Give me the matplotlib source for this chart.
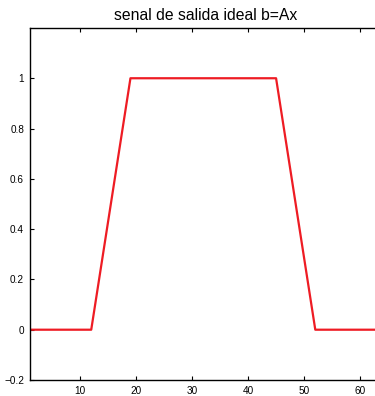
import matplotlib
matplotlib.use("Agg")
import matplotlib.pyplot as plt

# breakpoints of the ideal output signal
x_pts = [1, 12, 19, 45, 52, 64]
y_pts = [0, 0, 1, 1, 0, 0]

x_ticks = [10, 20, 30, 40, 50, 60]
y_ticks = [-0.2, 0, 0.2, 0.4, 0.6, 0.8, 1]
y_labels = ["\u22120.2", "0", "0.2", "0.4", "0.6", "0.8", "1"]


def main():
    plt.rcParams["font.family"] = ["Liberation Sans", "DejaVu Sans"]
    fig = plt.figure(figsize=(3.75, 3.96), dpi=100)
    ax = fig.add_axes([0.079, 0.0404, 0.941, 0.889])

    ax.plot(x_pts, y_pts, color="#ee1c24", lw=1.6)

    ax.set_xlim(1, 64)
    ax.set_ylim(-0.2, 1.2)
    ax.set_xticks(x_ticks)
    ax.set_yticks(y_ticks)
    ax.set_yticklabels(y_labels)
    ax.tick_params(direction="in", length=3, width=0.8, labelsize=7.2,
                   top=True, right=True, pad=4)
    for s in ax.spines.values():
        s.set_linewidth(1.0)
    ax.set_title("senal de salida ideal b=Ax", fontsize=11.3, pad=6)

    fig.savefig("out.png", dpi=100)


if __name__ == "__main__":
    main()
